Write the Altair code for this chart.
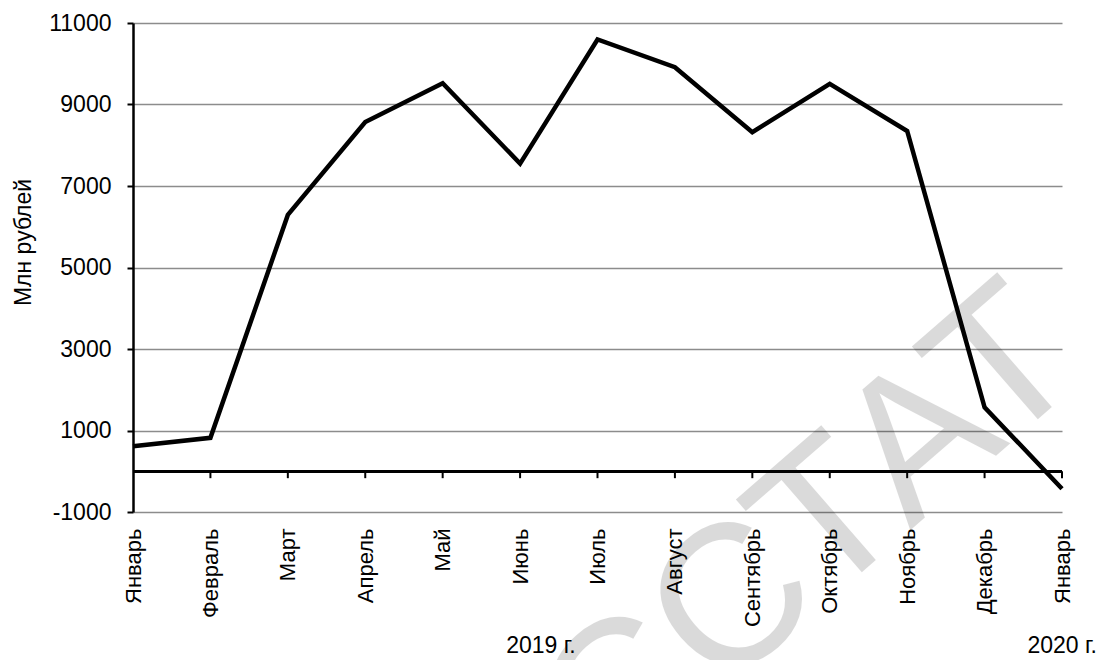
import json
import altair as alt
import pandas as pd

months = ["Январь", "Февраль", "Март", "Апрель", "Май", "Июнь", "Июль",
          "Август", "Сентябрь", "Октябрь", "Ноябрь", "Декабрь", "Январь"]
values = [615, 820, 6290, 8570, 9520, 7550, 10595, 9915, 8320, 9505, 8350, 1570, -430]
y_ticks = [-1000, 1000, 3000, 5000, 7000, 9000, 11000]
year_labels = ["2019 г.", "2020 г."]
y_title = "Млн рублей"
watermark = "РОССТАТ"

df = pd.DataFrame({"i": list(range(len(months))), "v": values})
ticks_df = pd.DataFrame({"i": list(range(1, len(months)))})

FONT = "Liberation Sans"
x_scale = alt.Scale(domain=[0, len(months) - 1], nice=False, zero=False)
y_scale = alt.Scale(domain=[-1000, 11000], nice=False, zero=False)

label_expr = json.dumps(months, ensure_ascii=False) + "[datum.value]"

x_enc = alt.X("i:Q", scale=x_scale,
              axis=alt.Axis(values=list(range(len(months))), labelExpr=label_expr,
                            labelAngle=270, labelAlign="right", labelBaseline="middle",
                            labelPadding=16, ticks=False, domain=False, grid=False,
                            labelFontSize=22, labelFont=FONT, labelColor="black",
                            labelOverlap=False, title=None, zindex=1))

wm = alt.Chart(pd.DataFrame({"t": [watermark]})).mark_text(
    fontSize=200, font=FONT, color="black", opacity=0.14, angle=319,
    align="right", baseline="alphabetic"
).encode(x=alt.value(958), y=alt.value(350), text="t:N")

line = alt.Chart(df).mark_line(color="black", strokeWidth=4.5, strokeJoin="miter").encode(
    x=x_enc,
    y=alt.Y("v:Q", scale=y_scale,
            axis=alt.Axis(values=y_ticks, grid=True, gridColor="#8c8c8c", gridWidth=1.5,
                          domain=True, domainColor="black", domainWidth=2.5,
                          ticks=True, tickColor="black", tickSize=6, tickWidth=2,
                          labelExpr="'' + datum.value",
                          labelPadding=16, labelFontSize=23, labelFont=FONT, labelColor="black",
                          title=y_title, titleFont=FONT, titleFontSize=23, titleFontWeight="normal",
                          titleColor="black", titleX=-98, titleY=219, titleAngle=270)),
)

zero = alt.Chart(df).mark_rule(color="black", strokeWidth=2.5).encode(
    x=alt.datum(0, scale=x_scale), x2=alt.datum(len(months) - 1), y=alt.datum(0, scale=y_scale)
)

ticks = alt.Chart(ticks_df).mark_rule(color="black", strokeWidth=2).encode(
    x=x_enc,
    y=alt.datum(0, scale=y_scale),
    y2=alt.datum(-170),
)

yr1 = alt.Chart(pd.DataFrame({"t": [year_labels[0]]})).mark_text(
    fontSize=23, font=FONT, color="black", align="center", baseline="alphabetic"
).encode(x=alt.value(408), y=alt.value(630), text="t:N")

yr2 = alt.Chart(pd.DataFrame({"t": [year_labels[1]]})).mark_text(
    fontSize=23, font=FONT, color="black", align="right", baseline="alphabetic"
).encode(x=alt.value(964), y=alt.value(630), text="t:N")

chart = alt.layer(wm, line, zero, ticks, yr1, yr2).properties(
    width=929, height=489,
    padding={"left": 125, "top": 15, "right": 37, "bottom": 148},
    autosize=alt.AutoSizeParams(type="none"),
    background="white",
).configure_view(stroke=None)

chart.save("out.html", embed_options={"renderer": "svg", "actions": False})
